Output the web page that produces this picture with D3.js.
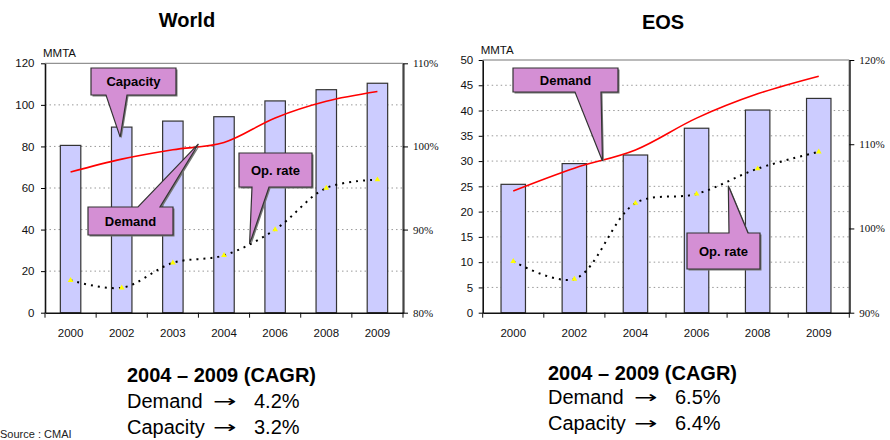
<!DOCTYPE html>
<html>
<head>
<meta charset="utf-8">
<script src="https://cdn.jsdelivr.net/npm/d3@7"></script>
<style>
  body { margin: 0; background: #fff; }
  text { font-family: "Liberation Sans", Arial, sans-serif; }
  .pct text { font-family: "Liberation Serif", "Times New Roman", serif; }
</style>
</head>
<body>
<div id="chart"></div>
<script>
// ---- data ----
var worldYears = ["2000", "2002", "2003", "2004", "2006", "2008", "2009"];
var worldCapacity = [80.5, 89.3, 92.2, 94.3, 101.9, 107.3, 110.4];
var worldDemand = [67.7, 73.9, 78.4, 81.9, 93.7, 101.7, 106.4];
var worldOpRate = [83.9, 83.0, 86.0, 86.9, 90.0, 95.0, 96.0];
var worldTicks = [0, 20, 40, 60, 80, 100, 120];
var worldPctTicks = [80, 90, 100, 110];

var eosYears = ["2000", "2002", "2004", "2006", "2008", "2009"];
var eosCapacity = [25.4, 29.5, 31.2, 36.5, 40.1, 42.4];
var eosDemand = [24.1, 28.6, 32.2, 38.5, 43.3, 46.8];
var eosOpRate = [96.1, 94.0, 103.0, 104.1, 107.1, 109.1];
var eosTicks = [0, 5, 10, 15, 20, 25, 30, 35, 40, 45, 50];
var eosPctTicks = [90, 100, 110, 120];

var worldCagr = ["4.2%", "3.2%"];
var eosCagr = ["6.5%", "6.4%"];

var svg = d3.select("#chart").append("svg")
    .attr("width", 890)
    .attr("height", 440);

function drawChart(cfg) {
    var g = svg.append("g");

    var x = d3.scaleBand()
        .domain(cfg.years)
        .range([cfg.left, cfg.right])
        .paddingInner(0.6)
        .paddingOuter(0.3);
    var step = x.step();

    var yL = d3.scaleLinear().domain([0, d3.max(cfg.ticks)]).range([cfg.bottom, cfg.top]);
    var yR = d3.scaleLinear().domain(d3.extent(cfg.pctTicks)).range([cfg.bottom, cfg.top]);

    // dotted gridlines
    g.selectAll(".grid")
        .data(cfg.ticks.slice(1, -1))
        .enter().append("line")
        .attr("x1", cfg.left).attr("x2", cfg.right)
        .attr("y1", d => yL(d)).attr("y2", d => yL(d))
        .attr("stroke", "#999")
        .attr("stroke-width", 1)
        .attr("stroke-dasharray", "1.5,3");

    // top border of plot
    g.append("line")
        .attr("x1", cfg.left).attr("x2", cfg.right)
        .attr("y1", cfg.top).attr("y2", cfg.top)
        .attr("stroke", "#777");

    // capacity bars
    g.selectAll(".bar")
        .data(cfg.capacity)
        .enter().append("rect")
        .attr("x", (d, i) => x(cfg.years[i]))
        .attr("y", d => yL(d))
        .attr("width", x.bandwidth())
        .attr("height", d => cfg.bottom - yL(d))
        .attr("fill", "#ccccff")
        .attr("stroke", "#333")
        .attr("stroke-width", 1.2);

    // demand line
    var demandLine = d3.line()
        .x((d, i) => x(cfg.years[i]) + x.bandwidth() / 2)
        .y(d => yL(d))
        .curve(d3.curveCatmullRom.alpha(0.5));
    g.append("path")
        .datum(cfg.demand)
        .attr("d", demandLine)
        .attr("fill", "none")
        .attr("stroke", "#ff0000")
        .attr("stroke-width", 1.6);

    // operating rate line (right axis)
    var opLine = d3.line()
        .x((d, i) => x(cfg.years[i]) + x.bandwidth() / 2)
        .y(d => yR(d))
        .curve(d3.curveCatmullRom.alpha(0.5));
    g.append("path")
        .datum(cfg.opRate)
        .attr("d", opLine)
        .attr("fill", "none")
        .attr("stroke", "#000")
        .attr("stroke-width", 2)
        .attr("stroke-dasharray", "2,5");

    g.selectAll(".mark")
        .data(cfg.opRate)
        .enter().append("path")
        .attr("d", d3.symbol(d3.symbolTriangle).size(14))
        .attr("transform", (d, i) => `translate(${x(cfg.years[i]) + x.bandwidth() / 2},${yR(d)})`)
        .attr("fill", "#ffff00");

    // left axis
    var left = g.append("g")
        .attr("transform", `translate(${cfg.left},0)`)
        .call(d3.axisLeft(yL).tickValues(cfg.ticks).tickSize(4).tickSizeOuter(0).tickPadding(cfg.leftPad));
    left.select(".domain").attr("stroke", "#111").attr("stroke-width", 1.6);
    left.selectAll("text").attr("font-size", "11.5px").attr("fill", "#111")
        .style("font-family", "'Liberation Sans', Arial, sans-serif");

    // right axis
    var right = g.append("g")
        .attr("class", "pct")
        .attr("transform", `translate(${cfg.right},0)`)
        .call(d3.axisRight(yR).tickValues(cfg.pctTicks).tickFormat(d => d + "%")
            .tickSize(5).tickSizeOuter(0).tickPadding(5));
    right.select(".domain").attr("stroke", "#444").attr("stroke-width", 2.2);
    right.selectAll("text").attr("font-size", "11px").attr("fill", "#111");

    // bottom axis: labels centred on bands, ticks between categories
    var bottom = g.append("g")
        .attr("transform", `translate(0,${cfg.bottom})`)
        .call(d3.axisBottom(x).tickSize(0).tickPadding(16));
    bottom.select(".domain").attr("stroke", "#111").attr("stroke-width", 1.6);
    bottom.selectAll("text").attr("font-size", "11.5px").attr("fill", "#111")
        .style("font-family", "'Liberation Sans', Arial, sans-serif");
    bottom.selectAll(".bnd")
        .data(d3.range(cfg.years.length + 1))
        .enter().append("line")
        .attr("x1", i => cfg.left + i * step).attr("x2", i => cfg.left + i * step)
        .attr("y1", 0).attr("y2", 5)
        .attr("stroke", "#111");

    // titles
    g.append("text")
        .attr("x", cfg.titleX).attr("y", cfg.titleY)
        .attr("text-anchor", "middle")
        .attr("font-size", "20px").attr("font-weight", "bold")
        .text(cfg.title);
    g.append("text")
        .attr("x", cfg.left - 2).attr("y", cfg.top - 6)
        .attr("font-size", "11.5px").attr("fill", "#111")
        .text("MMTA");

    // callouts
    cfg.callouts.forEach(c => {
        var tx = cfg.left + c.tip[0] * step;
        var ty = yL(c.tip[1]);
        var b = c.box;
        var p;
        if (c.side === "bottom") {
            p = `M${b[0]},${b[1]}H${b[0] + b[2]}V${b[1] + b[3]}H${c.base[1]}L${tx},${ty}L${c.base[0]},${b[1] + b[3]}H${b[0]}Z`;
        } else {
            p = `M${b[0]},${b[1]}H${c.base[0]}L${tx},${ty}L${c.base[1]},${b[1]}H${b[0] + b[2]}V${b[1] + b[3]}H${b[0]}Z`;
        }
        g.append("path").attr("d", p)
            .attr("transform", "translate(1.5,1.5)")
            .attr("fill", "#777");
        g.append("path").attr("d", p)
            .attr("fill", "#d48fd4")
            .attr("stroke", "#333")
            .attr("stroke-width", 1.2);
        g.append("text")
            .attr("x", b[0] + b[2] / 2).attr("y", b[1] + b[3] / 2 + 4.5)
            .attr("text-anchor", "middle")
            .attr("font-size", "13px").attr("font-weight", "bold")
            .text(c.label);
    });

    // CAGR summary
    var s = g.append("g");
    s.append("text")
        .attr("x", cfg.cagrX).attr("y", cfg.cagrY[0])
        .attr("font-size", "20px").attr("font-weight", "bold")
        .text("2004 – 2009 (CAGR)");
    ["Demand", "Capacity"].forEach((lbl, i) => {
        s.append("text")
            .attr("x", cfg.cagrX).attr("y", cfg.cagrY[i + 1])
            .attr("font-size", "20px")
            .text(lbl);
        // stretched arrow glyph
        s.append("text")
            .attr("transform", `translate(${cfg.cagrX + 86},${cfg.cagrY[i + 1] - 1}) scale(1.65,1)`)
            .attr("font-size", "17px")
            .style("font-family", "'DejaVu Sans', sans-serif")
            .text("→");
        s.append("text")
            .attr("x", cfg.cagrX + 127).attr("y", cfg.cagrY[i + 1])
            .attr("font-size", "20px")
            .text(cfg.cagr[i]);
    });
}

drawChart({
    title: "World", titleX: 187, titleY: 27,
    years: worldYears, capacity: worldCapacity, demand: worldDemand, opRate: worldOpRate,
    ticks: worldTicks, pctTicks: worldPctTicks,
    left: 45, right: 403, top: 63.3, bottom: 312.7, leftPad: 6.5,
    callouts: [
        { label: "Capacity", box: [91, 68, 85, 27], side: "bottom", base: [106, 127], tip: [1.47, 84.5] },
        { label: "Demand", box: [88, 207, 85, 28], side: "top", base: [138, 160], tip: [3.0, 81.2] },
        { label: "Op. rate", box: [239, 153, 73, 34], side: "bottom", base: [252, 269], tip: [4.0, 33] }
    ],
    cagr: worldCagr, cagrX: 127, cagrY: [381.5, 408, 434]
});

drawChart({
    title: "EOS", titleX: 663, titleY: 29,
    years: eosYears, capacity: eosCapacity, demand: eosDemand, opRate: eosOpRate,
    ticks: eosTicks, pctTicks: eosPctTicks,
    left: 482.7, right: 849.3, top: 60, bottom: 312.7, leftPad: 5.5,
    callouts: [
        { label: "Demand", box: [513, 68, 105, 24], side: "bottom", base: [575, 601], tip: [1.96, 30.0] },
        { label: "Op. rate", box: [687, 233, 73, 36], side: "top", base: [729, 748], tip: [4.02, 25.1] }
    ],
    cagr: eosCagr, cagrX: 548, cagrY: [380, 403.5, 430]
});

// source note
svg.append("text")
    .attr("x", 0).attr("y", 438)
    .attr("font-size", "11px").attr("fill", "#222")
    .text("Source : CMAI");
</script>
</body>
</html>
